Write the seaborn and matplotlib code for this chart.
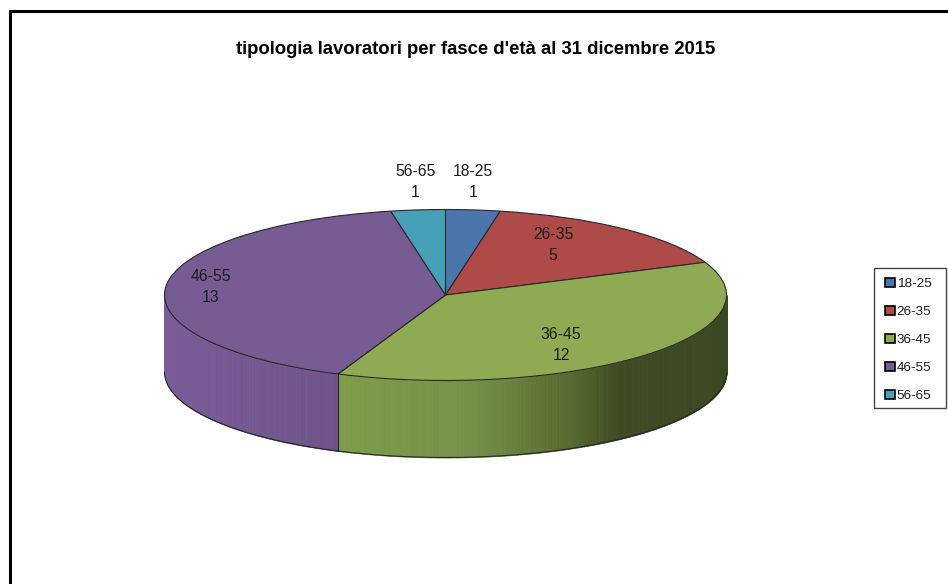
import numpy as np
import seaborn as sns
import matplotlib.pyplot as plt
from matplotlib.colors import to_rgb
from matplotlib.patches import Rectangle

labels = ['18-25', '26-35', '36-45', '46-55', '56-65']
values = [1, 5, 12, 13, 1]
colors = ['#4A76AB', '#AE4A48', '#8EAA52', '#775B93', '#45A0B8']
title = "tipologia lavoratori per fasce d'età al 31 dicembre 2015"

# label position, as a share of the pie radius along each slice's middle
label_rx = [1.00, 0.603, 0.581, 0.839, 1.09]
label_ry = [1.328, 0.757, 0.827, 1.014, 1.328]

sns.set_theme(style='white')
plt.rcParams['font.family'] = ['Liberation Sans', 'DejaVu Sans']

W, H = 948, 584
cx, cy, rx, ry, depth = 445.5, 295, 281, 85.5, 77
edge = '#26292b'

fig = plt.figure(figsize=(W / 100, H / 100), dpi=100)
ax = fig.add_axes([0, 0, 1, 1])

wedges, _ = ax.pie(values, colors=colors, startangle=90, counterclock=False,
                   wedgeprops={'edgecolor': edge, 'linewidth': 0.8})
for w in wedges:
    w.set_zorder(5)

ax.set_aspect('auto')
ax.set_xlim(-cx / rx, (W - cx) / rx)
ax.set_ylim((cy - H) / ry, cy / ry)
ax.axis('off')

d = depth / ry
total = sum(values)
edges = np.cumsum([0] + values) / total * 360

# colour of the rim changes from left to right
rim = {
    2: ([-0.38, 0.1, 0.45, 0.62, 1.0],
        ['#7F9D4A', '#748F48', '#55692F', '#3D4A22', '#3B4820']),
    3: ([-1.0, -0.38], ['#7A5C99', '#6E5389']),
}


def rim_color(x, stops, cols):
    rgb = np.array([to_rgb(c) for c in cols])
    return [np.interp(x, stops, rgb[:, i]) for i in range(3)]


for i, (stops, cols) in rim.items():
    a0 = max(edges[i], 90)
    a1 = min(edges[i + 1], 270)
    th = np.radians(np.linspace(a0, a1, 161))
    for t0, t1 in zip(th[:-1], th[1:]):
        tt = np.linspace(t0, t1, 3)
        c = rim_color(np.sin(tt).mean(), stops, cols)
        ax.fill_between(np.sin(tt), np.cos(tt), np.cos(tt) - d, color=c, lw=0.6,
                        antialiased=False, zorder=2)
    th = np.radians(np.linspace(a0, a1, 200))
    ax.plot(np.sin(th), np.cos(th) - d, color=edge, lw=0.8, zorder=3)

# slice boundary that faces the viewer
t = np.radians(edges[3])
ax.plot([np.sin(t)] * 2, [np.cos(t), np.cos(t) - d], color=edge, lw=0.8, zorder=3)

for i, lab in enumerate(labels):
    mid = np.radians((edges[i] + edges[i + 1]) / 2)
    ax.text(label_rx[i] * np.sin(mid), label_ry[i] * np.cos(mid), f'{lab}\n{values[i]}',
            ha='center', va='center', fontsize=11.3, color='#1c1c1c', linespacing=1.5,
            zorder=6)

fig.text(475.5 / W, 1 - 50 / H, title, ha='center', va='center',
         fontsize=13.37, fontweight='bold', color='black')

# legend box is drawn apart so its padding can follow the original
fig.add_artist(Rectangle((873.5 / W, 1 - 408 / H), 72 / W, 140 / H, transform=fig.transFigure,
                         facecolor='white', edgecolor='#444444', lw=1, zorder=-1))
leg = ax.legend(wedges, labels, loc='center left', bbox_to_anchor=(885 / W, 1 - 340 / H),
                bbox_transform=fig.transFigure, fontsize=9.7, frameon=False,
                handlelength=0.72, handleheight=0.72, handletextpad=0.15,
                labelspacing=1.15, borderpad=0, borderaxespad=0)
leg.set_zorder(10)
for h in leg.legend_handles:
    h.set_edgecolor('black')
    h.set_linewidth(1.2)
for txt in leg.get_texts():
    txt.set_color('#1c1c1c')

# frame of the original: only left and top are in view
fig.add_artist(plt.Line2D([9.5 / W, 9.5 / W], [0, 1 - 11 / H], color='black', lw=2.2))
fig.add_artist(plt.Line2D([8.5 / W, 1], [1 - 11 / H, 1 - 11 / H], color='black', lw=2.2,
                          solid_capstyle='butt'))

fig.savefig('out.png', dpi=100, facecolor='white')
